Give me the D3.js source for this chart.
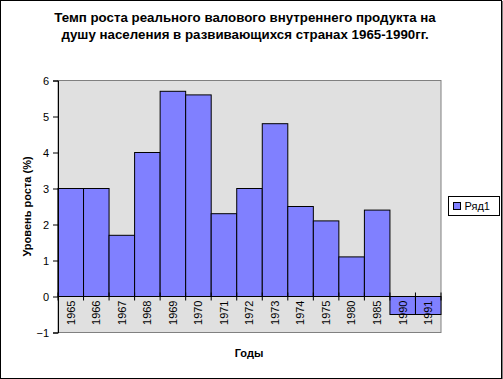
<!DOCTYPE html>
<html><head><meta charset="utf-8">
<script src="https://cdn.jsdelivr.net/npm/d3@7"></script>
<style>body{margin:0;background:#fff}svg{display:block;font-family:Arial,"Liberation Sans",sans-serif}</style>
</head><body>
<script>
const categories = ["1965","1966","1967","1968","1969","1970","1971","1972","1973","1974","1975","1980","1985","1990","1991"];
const values = [3, 3, 1.7, 4, 5.7, 5.6, 2.3, 3, 4.8, 2.5, 2.1, 1.1, 2.4, -0.5, -0.5];
const yTicks = [-1, 0, 1, 2, 3, 4, 5, 6];
const seriesName = "Ряд1";
const titleLines = ["Темп роста реального валового внутреннего продукта на", "душу населения в развивающихся странах 1965-1990гг."];
const yTitle = "Уровень роста (%)";
const xTitle = "Годы";

const W = 503, H = 379;
const svg = d3.select("body").append("svg").attr("width", W).attr("height", H);
svg.append("rect").attr("x",0.5).attr("y",0.5).attr("width",W-2).attr("height",H-1).attr("fill","#fff").attr("stroke","#000");
svg.append("line").attr("x1",W-1).attr("x2",W-1).attr("y1",1).attr("y2",H).attr("stroke","#000").attr("stroke-width",1);

const L = 58, R = 441, T = 80.5, B = 332.5;
const x = d3.scaleBand().domain(categories).range([L, R]).padding(0);
const y = d3.scaleLinear().domain([-1, 6]).range([B, T]);

svg.append("rect").attr("x",L).attr("y",T).attr("width",R-L).attr("height",B-T).attr("fill","#E0E0E0").attr("stroke","#808080");

svg.append("g").selectAll("rect").data(values).join("rect")
  .attr("x",(d,i)=>x(categories[i]))
  .attr("width",x.bandwidth())
  .attr("y",d=>y(Math.max(0,d)))
  .attr("height",d=>Math.abs(y(d)-y(0)))
  .attr("fill","#8080FF").attr("stroke","#000").attr("stroke-width",1);

// y axis
const ya = svg.append("g").attr("transform",`translate(${L},0)`)
  .call(d3.axisLeft(y).tickValues(yTicks).tickSize(5).tickPadding(4).tickFormat(d3.format("d")));
ya.select(".domain").attr("stroke","#000");
ya.selectAll("text").attr("font-size",11).attr("fill","#000").attr("font-family","Arial,'Liberation Sans',sans-serif");

// x axis at zero
const xa = svg.append("g").attr("transform",`translate(0,${y(0)})`)
  .call(d3.axisBottom(x).tickSize(0).tickFormat(d=>d));
xa.select(".domain").attr("stroke","#000").attr("d",`M${L},0H${R}`);
xa.selectAll("text").attr("font-size",11).attr("fill","#000")
  .attr("font-family","Arial,'Liberation Sans',sans-serif")
  .attr("transform","rotate(-90)").attr("text-anchor","end")
  .attr("x",-4).attr("y",0).attr("dy","0.35em");
// tick marks between categories
svg.append("g").selectAll("line").data(d3.range(categories.length + 1)).join("line")
  .attr("x1",i=>L + i*x.bandwidth())
  .attr("x2",i=>L + i*x.bandwidth())
  .attr("y1",y(0)-4).attr("y2",y(0)+4).attr("stroke","#000");

// titles
const t = svg.append("text").attr("x",245).attr("text-anchor","middle").attr("font-weight","bold").attr("font-size",13.3).attr("fill","#000");
titleLines.forEach((s,i)=>t.append("tspan").attr("x",245).attr("y",22+i*17).text(s));
svg.append("text").attr("transform",`translate(31,${(T+B)/2}) rotate(-90)`).attr("text-anchor","middle")
  .attr("font-weight","bold").attr("font-size",11).text(yTitle);
svg.append("text").attr("x",249).attr("y",357).attr("text-anchor","middle").attr("font-weight","bold").attr("font-size",11).text(xTitle);

// legend
const lg = svg.append("g").attr("transform","translate(448.5,196.5)");
lg.append("rect").attr("width",51).attr("height",19).attr("fill","#fff").attr("stroke","#000");
lg.append("rect").attr("x",5).attr("y",6).attr("width",7).attr("height",7).attr("fill","#8080FF").attr("stroke","#000");
lg.append("text").attr("x",16).attr("y",13.5).attr("font-size",11).text(seriesName);
</script>
</body></html>
